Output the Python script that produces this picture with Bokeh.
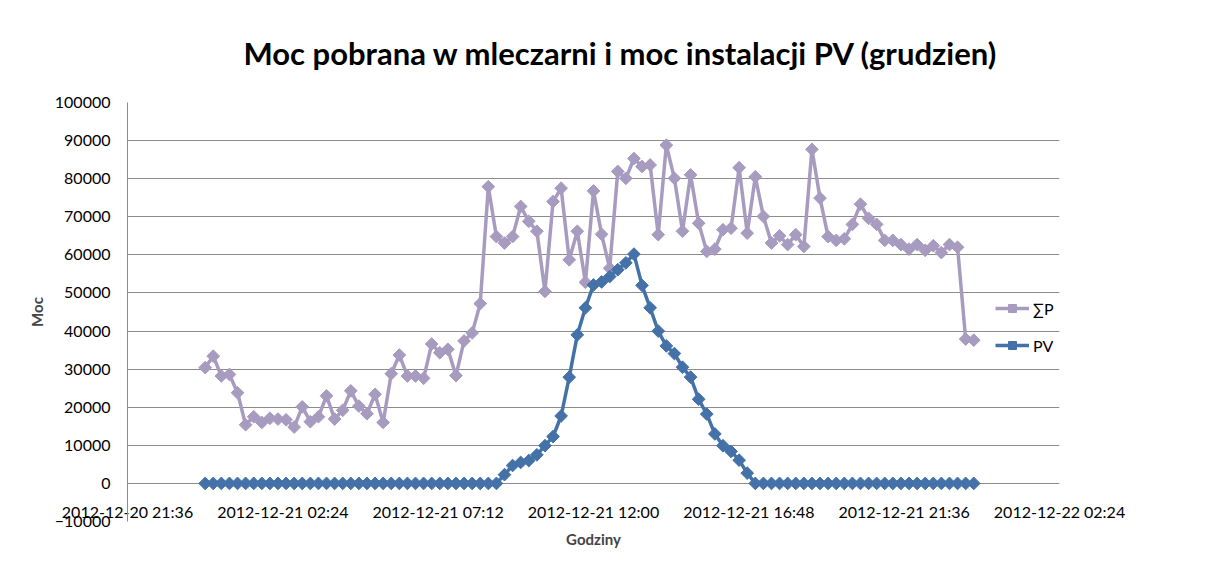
import math
import pandas as pd
from bokeh.plotting import figure
from bokeh.models import (FixedTicker, DatetimeTickFormatter, Legend, LegendItem,
                          Range1d, Title, BasicTickFormatter)
from bokeh.embed import file_html
from bokeh.resources import INLINE

title_text = "Moc pobrana w mleczarni  i moc instalacji PV (grudzien)"
x_title = "Godziny"
y_title = "Moc"
series_names = ["\u2211P", "PV"]
start_time = "2012-12-21 00:00"
step = "15min"

sum_p = [30400, 33400, 28200, 28600, 23800, 15400, 17500, 16000, 17100, 16900,
         16700, 14800, 20100, 16200, 17500, 23000, 16900, 19200, 24300, 20300,
         18300, 23400, 16000, 28800, 33700, 28200, 28200, 27600, 36600, 34300,
         35200, 28300, 37400, 39500, 47200, 77900, 64800, 63100, 64800, 72700,
         68800, 66200, 50400, 74000, 77500, 58700, 66200, 52800, 76800, 65400,
         56500, 81900, 80100, 85300, 83200, 83600, 65300, 88800, 80100, 66200,
         81000, 68300, 60900, 61500, 66600, 67000, 82900, 65700, 80500, 70100,
         63100, 65000, 62700, 65300, 62200, 87700, 74900, 64800, 63800, 64200,
         68000, 73300, 69600, 68000, 63800, 63800, 62700, 61500, 62700, 61200,
         62400, 60600, 62700, 62000, 37900, 37600]

pv = [0] * 37 + [2300, 4700, 5500, 6000, 7500, 9900, 12300, 17700, 27900, 39000,
                 46100, 52100, 52900, 54300, 56100, 57900, 60200, 52000, 46100, 40000,
                 36100, 34100, 30500, 27900, 22100, 18200, 13000, 9900, 8400, 6100,
                 2700] + [0] * 28

x_tick_labels = ["2012-12-20 21:36", "2012-12-21 02:24", "2012-12-21 07:12",
                 "2012-12-21 12:00", "2012-12-21 16:48", "2012-12-21 21:36",
                 "2012-12-22 02:24"]
y_min, y_max, y_step = -10000, 100000, 10000

FONT = "Lato"
C_SUM = "#A89BC0"
C_PV = "#4472A8"
GRID = "#8C8C8C"

times = pd.date_range(start_time, periods=len(pv), freq=step)
tick_ms = [pd.Timestamp(t).value / 1e6 for t in x_tick_labels]
y_ticks = list(range(y_min, y_max + 1, y_step))

p = figure(width=1216, height=566, x_axis_type="datetime",
           output_backend="svg", toolbar_location=None,
           x_range=Range1d(tick_ms[0], tick_ms[-1]),
           y_range=Range1d(y_min, y_max),
           min_border_left=127, min_border_right=157,
           min_border_top=101, min_border_bottom=45)
p.outline_line_color = None
p.background_fill_color = "white"
p.border_fill_color = "white"

# title
t = Title(text=title_text, align="left", offset=116, standoff=62,
          text_font=FONT, text_font_size="31px", text_font_style="bold",
          text_color="black")
p.add_layout(t, "above")

# grid
p.xgrid.grid_line_color = None
p.ygrid.grid_line_color = GRID
p.ygrid.grid_line_width = 1
p.ygrid.ticker = FixedTicker(ticks=y_ticks)

# y axis
p.yaxis.ticker = FixedTicker(ticks=y_ticks)
p.yaxis.formatter = BasicTickFormatter(use_scientific=False)
p.yaxis.axis_line_color = GRID
p.yaxis.major_tick_line_color = None
p.yaxis.minor_tick_line_color = None
p.yaxis.major_label_standoff = 11
p.yaxis.major_label_text_font = FONT
p.yaxis.major_label_text_font_size = "16px"
p.yaxis.major_label_text_color = "black"
p.yaxis.axis_label = y_title
p.yaxis.axis_label_text_font = FONT
p.yaxis.axis_label_text_font_size = "15px"
p.yaxis.axis_label_text_font_style = "bold"
p.yaxis.axis_label_standoff = 6

# x axis
p.xaxis.ticker = FixedTicker(ticks=tick_ms)
fmt = "%Y-%m-%d %H:%M"
p.xaxis.formatter = DatetimeTickFormatter(
    milliseconds=fmt, seconds=fmt, minsec=fmt, minutes=fmt, hourmin=fmt,
    hours=fmt, days=fmt, months=fmt, years=fmt)
p.xaxis.axis_line_color = None
p.xaxis.major_tick_line_color = None
p.xaxis.minor_tick_line_color = None
p.xaxis.major_label_standoff = -26
p.xaxis.major_label_text_font = FONT
p.xaxis.major_label_text_font_size = "16px"
p.xaxis.major_label_text_color = "black"
p.xaxis.axis_label = x_title
p.xaxis.axis_label_text_font = FONT
p.xaxis.axis_label_text_font_size = "15px"
p.xaxis.axis_label_text_font_style = "bold"
p.xaxis.axis_label_standoff = 6

# series
l1 = p.line(times, sum_p, line_color=C_SUM, line_width=3.5)
s1 = p.scatter(times, sum_p, marker="square", angle=math.pi / 4, size=9,
               fill_color=C_SUM, line_color=C_SUM)
l2 = p.line(times, pv, line_color=C_PV, line_width=3.5)
s2 = p.scatter(times, pv, marker="square", angle=math.pi / 4, size=9,
               fill_color=C_PV, line_color=C_PV)

legend = Legend(items=[LegendItem(label=series_names[0], renderers=[l1, s1]),
                       LegendItem(label=series_names[1], renderers=[l2, s2])],
                location=(868, 166), orientation="vertical",
                glyph_width=34, glyph_height=20, spacing=17, padding=0, margin=0,
                label_standoff=4, label_text_font=FONT,
                label_text_font_size="16px", label_text_color="black",
                background_fill_alpha=0, border_line_color=None)
p.add_layout(legend)

open("out.html", "w").write(file_html(p, INLINE))
